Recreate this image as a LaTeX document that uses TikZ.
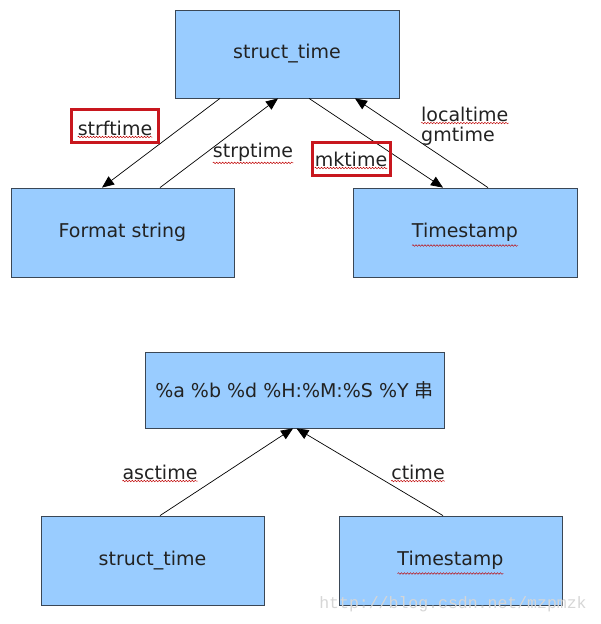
\documentclass[tikz,border=0pt]{standalone}
\usepackage{fontspec}
\setmainfont{DejaVu Sans}
\newfontfamily\cjkfont{Noto Sans CJK SC}
\newfontfamily\wmfont{Liberation Mono}
\usetikzlibrary{arrows.meta,decorations.pathmorphing}
\definecolor{boxfill}{HTML}{99CCFF}
\definecolor{boxline}{HTML}{3A4756}
\definecolor{txt}{HTML}{222222}
\definecolor{redbox}{HTML}{C8171E}
\tikzset{
  box/.style={draw=boxline, fill=boxfill, line width=0.8pt, inner sep=0pt,
    minimum width=223pt, minimum height=89pt, font=\fontsize{19}{21}\selectfont, text=txt},
  lbl/.style={inner sep=0pt, font=\fontsize{19}{21}\selectfont, text=txt},
  conn/.style={line width=0.7pt, -{Triangle[length=12pt,width=10pt]}},
  redframe/.style={draw=redbox, line width=3pt, inner sep=0pt},
  squig/.style={draw=red!75!black, line width=0.45pt, decorate,
    decoration={snake, amplitude=0.8pt, segment length=3pt}}
}
\begin{document}
\begin{tikzpicture}[x=1pt,y=-1pt]
\useasboundingbox (0,0) rectangle (600,624);
% boxes
\node[box, minimum width=224pt, minimum height=88pt] (top) at (287,54) {struct\_time};
\node[box] (fmt) at (122.5,232.5) {Format string};
\node[box, minimum width=224pt] (ts) at (465,232.5) {Timestamp};
\node[box, minimum width=299pt, minimum height=76pt] (fs) at (294.5,390) {\%a \%b \%d \%H:\%M:\%S \%Y {\cjkfont 串}};
\node[box] (st2) at (152.5,560.5) {struct\_time};
\node[box] (ts2) at (450.5,560.5) {Timestamp};
% connectors
\draw[conn] ([xshift=-67pt]top.south) -- ([xshift=-20.5pt]fmt.north);
\draw[conn] ([xshift=37.5pt]fmt.north) -- ([xshift=-9pt]top.south);
\draw[conn] ([xshift=22pt]top.south) -- ([xshift=-22pt]ts.north);
\draw[conn] ([xshift=23pt]ts.north) -- ([xshift=68pt]top.south);
\draw[conn] ([xshift=7.5pt]st2.north) -- ([xshift=-1.5pt]fs.south);
\draw[conn] ([xshift=-7.5pt]ts2.north) -- ([xshift=2pt]fs.south);
% labels
\node[lbl] (l1) at (115,128) {strftime};
\node[redframe, minimum width=87pt, minimum height=33pt] (r1) at (114.5,125.5) {};
\node[lbl] (l2) at (253,152) {strptime};
\node[lbl] (l3) at (351,159) {mktime};
\node[redframe, minimum width=78pt, minimum height=33pt] (r3) at (351,158.5) {};
\node[lbl, anchor=west] (l4) at (421,114) {localtime};
\node[lbl, anchor=west] (l5) at (421,136) {gmtime};
\node[lbl] (l6) at (160,472) {asctime};
\node[lbl] (l7) at (418,472) {ctime};
% spell-check squiggles
\draw[squig] ([yshift=-1.5pt]l1.south west) -- ([yshift=-1.5pt]l1.south east);
\draw[squig] ([yshift=-1.5pt]l2.south west) -- ([yshift=-1.5pt]l2.south east);
\draw[squig] ([yshift=-1.5pt]l3.south west) -- ([yshift=-1.5pt]l3.south east);
\draw[squig] ([yshift=-1.5pt]l4.south west) -- ([yshift=-1.5pt]l4.south east);
\draw[squig] ([yshift=-1.5pt]l6.south west) -- ([yshift=-1.5pt]l6.south east);
\draw[squig] ([yshift=-1.5pt]l7.south west) -- ([yshift=-1.5pt]l7.south east);
\coordinate (tsa) at ([yshift=-13pt]ts.center);
\draw[squig] ([xshift=-53pt]tsa) -- ([xshift=53pt]tsa);
\coordinate (tsb) at ([yshift=-13pt]ts2.center);
\draw[squig] ([xshift=-53pt]tsb) -- ([xshift=53pt]tsb);
% watermark
\node[inner sep=0pt, text=black!16, font=\wmfont\fontsize{16.5}{18}\selectfont] (wm) at (453,604) {http://blog.csdn.net/mzpmzk};
\end{tikzpicture}
\end{document}
